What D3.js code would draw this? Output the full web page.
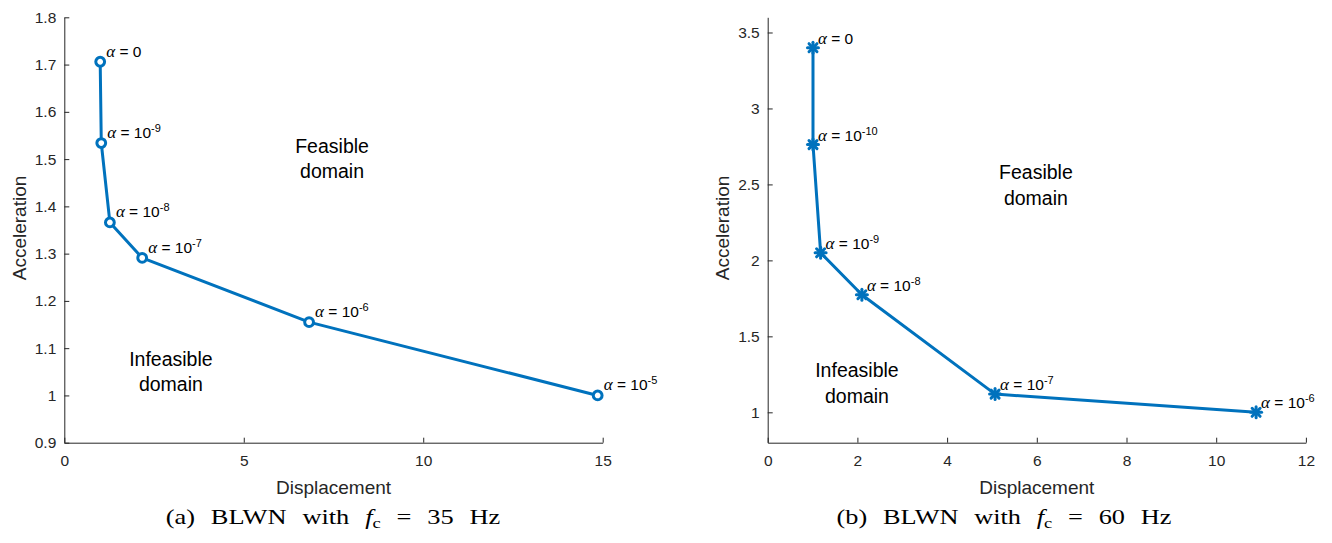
<!DOCTYPE html>
<html>
<head>
<meta charset="utf-8">
<script src="https://cdn.jsdelivr.net/npm/d3@7"></script>
<style>
  html, body { margin: 0; padding: 0; background: #fff; }
  svg { display: block; }
</style>
</head>
<body>
<svg id="fig" width="1332" height="543"></svg>
<script>
// Pareto fronts: peak acceleration vs. displacement for several weights alpha

// (a) BLWN, fc = 35 Hz
const dispA = [1.0, 1.03, 1.27, 2.17, 6.82, 14.86];
const accA = [1.706, 1.534, 1.366, 1.291, 1.155, 1.0];
const alphaExpA = [null, "-9", "-8", "-7", "-6", "-5"];
const xTicksA = [0, 5, 10, 15];
const yTicksA = [0.9, 1, 1.1, 1.2, 1.3, 1.4, 1.5, 1.6, 1.7, 1.8];

// (b) BLWN, fc = 60 Hz
const dispB = [1.01, 1.01, 1.18, 2.10, 5.07, 10.89];
const accB = [3.40, 2.762, 2.05, 1.774, 1.12, 1.0];
const alphaExpB = [null, "-10", "-9", "-8", "-7", "-6"];
const xTicksB = [0, 2, 4, 6, 8, 10, 12];
const yTicksB = [1, 1.5, 2, 2.5, 3, 3.5];

const regionLabels = [["Feasible", "domain"], ["Infeasible", "domain"]];

const BLUE = "#0072BD";
const AXIS = "#262626";
const SANS = "'Liberation Sans', Arial, Helvetica, sans-serif";
const SERIF = "'Liberation Serif', 'Times New Roman', serif";

const svg = d3.select("#fig");

const panels = [
  {
    left: 64.3, right: 602.7, top: 17.3, bottom: 442.7,
    xDomain: [0, 15], yDomain: [0.9, 1.8],
    xTicks: xTicksA, yTicks: yTicksA,
    xs: dispA, ys: accA, exps: alphaExpA,
    marker: "circle", labelDx: 6, labelDy: -5,
    feasible: [7.46, 1.513], infeasible: [2.97, 1.063],
    caption: ["(a) BLWN with ", "35"], capX: 333
  },
  {
    left: 767.7, right: 1305.9, top: 17.3, bottom: 442.7,
    xDomain: [0, 12], yDomain: [0.8, 3.6],
    xTicks: xTicksB, yTicks: yTicksB,
    xs: dispB, ys: accB, exps: alphaExpB,
    marker: "star", labelDx: 5, labelDy: -4,
    feasible: [5.98, 2.535], infeasible: [1.99, 1.231],
    caption: ["(b) BLWN with ", "60"], capX: 1004
  }
];

panels.forEach(p => {
  const x = d3.scaleLinear().domain(p.xDomain).range([p.left, p.right]);
  const y = d3.scaleLinear().domain(p.yDomain).range([p.bottom, p.top]);
  const g = svg.append("g");

  // axes, ticks pointing inward
  const xAxis = d3.axisBottom(x).tickValues(p.xTicks).tickSizeInner(-5).tickSizeOuter(0)
    .tickPadding(12).tickFormat(d3.format("~g"));
  const yAxis = d3.axisLeft(y).tickValues(p.yTicks).tickSizeInner(-5).tickSizeOuter(0)
    .tickPadding(12).tickFormat(d3.format("~g"));

  const gx = g.append("g").attr("transform", `translate(0,${p.bottom})`).call(xAxis);
  const gy = g.append("g").attr("transform", `translate(${p.left},0)`).call(yAxis);
  [gx, gy].forEach(a => {
    a.select(".domain").attr("stroke", AXIS).attr("stroke-width", 1);
    a.selectAll(".tick line").attr("stroke", AXIS).attr("stroke-width", 1);
    a.selectAll(".tick text").attr("fill", AXIS).style("font-family", SANS).style("font-size", "15.5px");
  });
  gy.selectAll(".tick text").attr("dx", "4px");

  // axis titles
  g.append("text")
    .attr("x", (p.left + p.right) / 2).attr("y", 494)
    .attr("text-anchor", "middle").attr("fill", AXIS)
    .style("font-family", SANS).style("font-size", "19px")
    .text("Displacement");
  g.append("text")
    .attr("transform", `translate(${p.left - 38.5},${(p.top + p.bottom) / 2 - 2}) rotate(-90)`)
    .attr("text-anchor", "middle").attr("fill", AXIS)
    .style("font-family", SANS).style("font-size", "19px")
    .text("Acceleration");

  // front line
  const pts = p.xs.map((d, i) => [d, p.ys[i]]);
  const line = d3.line().x(d => x(d[0])).y(d => y(d[1]));
  g.append("path").datum(pts)
    .attr("d", line).attr("fill", "none")
    .attr("stroke", BLUE).attr("stroke-width", 3).attr("stroke-linejoin", "round");

  // markers
  const mk = g.selectAll(".mk").data(pts).enter().append("g")
    .attr("transform", d => `translate(${x(d[0])},${y(d[1])})`);
  if (p.marker === "circle") {
    mk.append("circle").attr("r", 4.4).attr("fill", "#fff")
      .attr("stroke", BLUE).attr("stroke-width", 3);
  } else {
    const s = 5.5, t = 4;
    [[-s, 0, s, 0], [0, -s, 0, s], [-t, -t, t, t], [-t, t, t, -t]].forEach(c => {
      mk.append("line").attr("x1", c[0]).attr("y1", c[1]).attr("x2", c[2]).attr("y2", c[3])
        .attr("stroke", BLUE).attr("stroke-width", 3).attr("stroke-linecap", "round");
    });
    mk.append("circle").attr("r", 3).attr("fill", BLUE);
  }

  // alpha labels
  pts.forEach((d, i) => {
    const t = g.append("text")
      .attr("x", x(d[0]) + p.labelDx).attr("y", y(d[1]) + p.labelDy)
      .attr("fill", "#000").style("font-family", SANS).style("font-size", "15.5px");
    t.append("tspan").style("font-family", SERIF).style("font-style", "italic")
      .style("font-size", "17px").text("α");
    if (p.exps[i] === null) {
      t.append("tspan").text(" = 0");
    } else {
      t.append("tspan").text(" = 10");
      t.append("tspan").attr("dy", -6).style("font-size", "11px").text(p.exps[i]);
    }
  });

  // domain annotations
  [p.feasible, p.infeasible].forEach((pos, k) => {
    const t = g.append("text")
      .attr("x", x(pos[0])).attr("y", y(pos[1]))
      .attr("text-anchor", "middle").attr("fill", "#000")
      .style("font-family", SANS).style("font-size", "19.5px");
    regionLabels[k].forEach((w, j) => {
      t.append("tspan").attr("x", x(pos[0])).attr("dy", j === 0 ? 0 : 25.5).text(w);
    });
  });

  // caption, fitted to the subfigure caption width
  const capG = svg.append("g");
  const cap = capG.append("text")
    .attr("x", 0).attr("y", 0)
    .attr("text-anchor", "middle").attr("fill", "#000")
    .style("font-family", SERIF).style("font-size", "20px")
    .style("word-spacing", "7px");
  cap.append("tspan").text(p.caption[0]);
  cap.append("tspan").style("font-style", "italic").text("f");
  cap.append("tspan").attr("dy", 4).style("font-size", "14px").text("c");
  cap.append("tspan").attr("dy", -4).text(" = " + p.caption[1] + " Hz");
  const w = cap.node().getBBox().width;
  const sx = 335 / w;
  capG.attr("transform", `translate(${p.capX},524) scale(${sx},1)`);
});
</script>
</body>
</html>
